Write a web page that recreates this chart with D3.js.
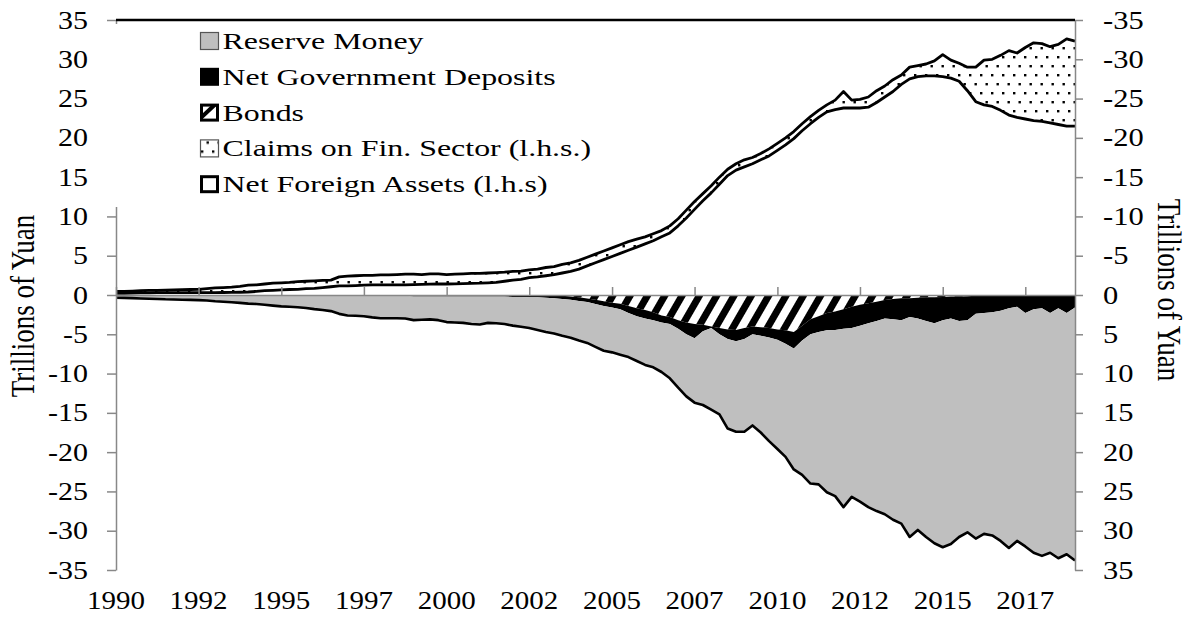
<!DOCTYPE html>
<html>
<head>
<meta charset="utf-8">
<script src="https://cdn.jsdelivr.net/npm/d3@7"></script>
<style>
  body { margin: 0; background: #fff; }
  text { font-family: "Liberation Serif", "Times New Roman", serif; fill: #000; }
</style>
</head>
<body>
<div id="chart"></div>
<script>
// Quarterly observations, 1990Q1 .. 2019Q1, trillions of yuan
// left side (l.h.s.)
var nfa = [
  0.2, 0.22, 0.24, 0.26,  0.28, 0.3, 0.3, 0.3,  0.3, 0.3, 0.3, 0.3,  0.3, 0.32, 0.33, 0.35,
  0.38, 0.45, 0.55, 0.6,  0.65, 0.7, 0.72, 0.8,  0.85, 0.95, 1.05, 1.15,  1.15, 1.2, 1.25, 1.3,
  1.3, 1.3, 1.3, 1.3,  1.32, 1.35, 1.38, 1.4,  1.4, 1.42, 1.45, 1.48,  1.5, 1.55, 1.6, 1.75,
  1.9, 2.0, 2.2, 2.3,  2.45, 2.6, 2.8, 3.0,  3.3, 3.7, 4.1, 4.5,  4.9, 5.3, 5.7, 6.1,
  6.5, 6.9, 7.4, 7.9,  8.8, 9.8, 10.9, 12.0,  13.0, 14.1, 15.2, 15.9,  16.3, 16.7, 17.2, 17.7,
  18.4, 19.1, 19.9, 20.9,  21.8, 22.6, 23.3, 23.6,  23.8, 23.8, 23.8, 23.9,  24.5, 25.2, 25.9, 26.8,
  27.5, 27.8, 27.9, 27.9,  27.8, 27.6, 27.2, 26.0,  24.6, 24.2, 24.0, 23.5,  22.9, 22.6, 22.4, 22.2,
  22.1, 21.9, 21.7, 21.5,  21.5
];
var claims = [
  0.25, 0.25, 0.26, 0.29,  0.3, 0.3, 0.33, 0.36,  0.38, 0.4, 0.42, 0.5,  0.6, 0.63, 0.67, 0.75,
  0.87, 0.85, 0.85, 0.9,  0.9, 0.9, 0.98, 0.95,  0.95, 0.9, 0.85, 1.15,  1.25, 1.25, 1.25, 1.2,
  1.25, 1.25, 1.3, 1.35,  1.33, 1.25, 1.32, 1.3,  1.2, 1.23, 1.25, 1.27,  1.25, 1.25, 1.25, 1.15,
  1.1, 1.05, 1.0, 1.0,  1.05, 1.0, 1.1, 1.1,  1.1, 1.1, 1.1, 1.1,  1.1, 1.1, 1.1, 1.0,
  0.9, 0.9, 0.8, 0.9,  0.9, 1.0, 1.0, 0.9,  0.9, 0.9, 0.8, 0.8,  0.9, 0.8, 0.8, 0.9,
  0.9, 0.9, 0.9, 0.9,  0.9, 0.9, 0.9, 1.2,  2.1, 1.0, 1.1, 1.3,  1.5, 1.4, 1.5, 1.2,
  1.5, 1.4, 1.5, 1.9,  2.8, 2.3, 2.3, 3.0,  4.4, 5.7, 6.0, 7.0,  8.2, 8.2, 9.1, 9.9,
  9.9, 9.7, 10.2, 11.1,  10.8
];
// right side (r.h.s., drawn downward)
var bonds = [
  0, 0, 0, 0,  0, 0, 0, 0,  0, 0, 0, 0,  0, 0, 0, 0,
  0, 0, 0, 0,  0, 0, 0, 0,  0, 0, 0, 0,  0, 0, 0, 0,
  0, 0, 0, 0,  0, 0, 0, 0,  0, 0, 0, 0,  0, 0, 0, 0,
  0, 0, 0, 0,  0, 0.05, 0.1, 0.2,  0.3, 0.45, 0.6, 0.8,  1.0, 1.1, 1.4, 1.7,
  1.9, 2.2, 2.6, 2.8,  3.2, 3.5, 3.7, 3.8,  4.0, 4.2, 4.4, 4.45,  4.2, 4.0, 4.1, 4.2,
  4.4, 4.5, 4.7, 3.9,  3.1, 2.7, 2.3, 2.1,  1.8, 1.5, 1.25, 1.05,  0.85, 0.65, 0.5, 0.42,
  0.4, 0.35, 0.3, 0.3,  0.25, 0.2, 0.2, 0.15,  0.1, 0.05, 0, 0,  0, 0, 0, 0,
  0, 0, 0, 0,  0
];
var govDeposits = [
  0.05, 0.05, 0.05, 0.05,  0.05, 0.05, 0.05, 0.05,  0.05, 0.05, 0.05, 0.05,  0.05, 0.05, 0.05, 0.05,
  0.05, 0.05, 0.05, 0.05,  0.1, 0.1, 0.1, 0.1,  0.1, 0.1, 0.1, 0.1,  0.1, 0.1, 0.1, 0.1,
  0.1, 0.1, 0.1, 0.1,  0.2, 0.2, 0.2, 0.2,  0.2, 0.2, 0.2, 0.2,  0.2, 0.2, 0.2, 0.2,
  0.25, 0.25, 0.3, 0.3,  0.35, 0.35, 0.4, 0.4,  0.45, 0.45, 0.55, 0.6,  0.6, 0.7, 0.9, 1.0,
  1.1, 1.0, 0.9, 0.9,  1.1, 1.5, 1.8, 0.8,  0.2, 0.8, 1.2, 1.45,  1.4, 1.0, 1.1, 1.2,
  1.3, 1.7, 2.1, 1.9,  1.9, 2.0, 2.2, 2.35,  2.5, 2.7, 2.65, 2.55,  2.45, 2.35, 2.6, 2.78,
  2.4, 2.65, 3.0, 3.3,  2.95, 2.8, 3.1, 3.05,  2.3, 2.25, 2.2, 2.0,  1.7, 1.5, 2.3, 1.8,
  1.7, 2.3, 1.7, 2.3,  1.6
];
var reserveMoney = [
  0.3, 0.32, 0.35, 0.4,  0.43, 0.45, 0.5, 0.52,  0.55, 0.57, 0.6, 0.65,  0.75, 0.8, 0.87, 0.95,
  1.05, 1.1, 1.2, 1.3,  1.35, 1.4, 1.45, 1.55,  1.7, 1.8, 1.95, 2.3,  2.5, 2.55, 2.6, 2.75,
  2.85, 2.85, 2.85, 2.9,  3.0, 2.95, 2.9, 3.0,  3.25, 3.3, 3.35, 3.5,  3.55, 3.35, 3.4, 3.5,
  3.65, 3.8, 3.9, 4.15,  4.35, 4.5, 4.7, 4.85,  5.05, 5.2, 5.45, 5.7,  5.7, 5.8, 5.6, 5.7,
  5.9, 6.0, 6.3, 6.9,  7.5, 7.9, 8.2, 9.4,  10.4, 10.2, 11.4, 11.5,  11.8, 11.6, 12.3, 13.2,
  13.9, 14.4, 15.4, 17.1,  19.0, 19.4, 20.6, 21.15,  22.7, 21.5, 22.4, 23.4,  24.2, 24.9, 25.5, 25.9,
  28.0, 26.9, 27.5, 28.0,  28.9, 28.7, 27.5, 27.0,  28.6, 28.1, 28.4, 29.3,  30.5, 29.8, 29.7, 31.0,
  31.5, 30.5, 31.8, 30.7,  32.2
];

var xLabels = ["1990", "1992", "1995", "1997", "2000", "2002", "2005", "2007", "2010", "2012", "2015", "2017"];
var yTicks = [-35, -30, -25, -20, -15, -10, -5, 0, 5, 10, 15, 20, 25, 30, 35];
var legendNames = ["Reserve Money", "Net Government Deposits", "Bonds", "Claims on Fin. Sector (l.h.s.)", "Net Foreign Assets (l.h.s)"];

var W = 1192, H = 630;
var grey = "#bfbfbf", axisGrey = "#888";

var svg = d3.select("#chart").append("svg").attr("width", W).attr("height", H);

// the original lettering is wider than plain Times: stretch glyphs horizontally
function widenTick(sel, k) {
  sel.each(function() {
    var t = d3.select(this);
    t.attr("x", +t.attr("x") / k).attr("transform", "scale(" + k + ",1)");
  });
}

var start = new Date(1990, 0, 1);
var rows = nfa.map(function(v, i) {
  return { date: d3.timeMonth.offset(start, i * 3), nfa: v, claims: claims[i],
           bonds: bonds[i], gov: govDeposits[i], rm: reserveMoney[i] };
});

var x = d3.scaleTime().domain([start, new Date(2019, 0, 1)]).range([116, 1075]);
var yL = d3.scaleLinear().domain([-35, 35]).range([570, 20]);
var yR = d3.scaleLinear().domain([-35, 35]).range([20, 570]);

// patterns
var defs = svg.append("defs");
var hatch = defs.append("pattern").attr("id", "hatch").attr("patternUnits", "userSpaceOnUse")
  .attr("width", 15).attr("height", 15).attr("patternTransform", "rotate(30)");
hatch.append("rect").attr("width", 15).attr("height", 15).attr("fill", "#fff");
hatch.append("rect").attr("width", 7).attr("height", 15).attr("fill", "#000");

var dots = defs.append("pattern").attr("id", "dots").attr("patternUnits", "userSpaceOnUse")
  .attr("width", 11).attr("height", 18);
dots.append("rect").attr("width", 11).attr("height", 18).attr("fill", "#fff");
dots.append("rect").attr("x", 1).attr("y", 2).attr("width", 2.4).attr("height", 2.4).attr("fill", "#000");
dots.append("rect").attr("x", 6.5).attr("y", 11).attr("width", 2.4).attr("height", 2.4).attr("fill", "#000");

// stacks
var rightStack = d3.stack().keys(["bonds", "gov", "rm"])(rows);
var leftStack = d3.stack().keys(["nfa", "claims"])(rows);

var areaR = d3.area().x(function(d) { return x(d.data.date); })
  .y0(function(d) { return yR(d[0]); }).y1(function(d) { return yR(d[1]); });
var areaL = d3.area().x(function(d) { return x(d.data.date); })
  .y0(function(d) { return yL(d[0]); }).y1(function(d) { return yL(d[1]); });
var lineR = d3.line().x(function(d) { return x(d.data.date); }).y(function(d) { return yR(d[1]); });
var lineL = d3.line().x(function(d) { return x(d.data.date); }).y(function(d) { return yL(d[1]); });

var fillsR = { bonds: "url(#hatch)", gov: "#000", rm: grey };
svg.selectAll(".areaR").data(rightStack).enter().append("path")
  .attr("class", "areaR").attr("d", areaR).attr("fill", function(s) { return fillsR[s.key]; });
svg.append("path").attr("d", lineR(rightStack[2])).attr("fill", "none")
  .attr("stroke", "#000").attr("stroke-width", 2.6).attr("stroke-linejoin", "round");

var fillsL = { nfa: "#fff", claims: "url(#dots)" };
svg.selectAll(".areaL").data(leftStack).enter().append("path")
  .attr("class", "areaL").attr("d", areaL).attr("fill", function(s) { return fillsL[s.key]; });
svg.selectAll(".lineL").data(leftStack).enter().append("path")
  .attr("class", "lineL").attr("d", lineL).attr("fill", "none")
  .attr("stroke", "#000").attr("stroke-width", 2.8).attr("stroke-linejoin", "round");

// x axis on the zero line, ticks pointing up
var xTickDates = xLabels.map(function(l, i) { return d3.timeMonth.offset(start, i * 30); });
svg.append("g").attr("transform", "translate(0," + yL(0) + ")")
  .call(d3.axisTop(x).tickValues(xTickDates).tickSize(8).tickSizeOuter(0).tickFormat(""))
  .call(function(g) { g.selectAll("line,path").attr("stroke", axisGrey).attr("stroke-width", 1.5); });

svg.append("g").selectAll("text").data(xLabels).enter().append("text")
  .attr("transform", function(d, i) { return "translate(" + x(xTickDates[i]) + ",609) scale(1.16,1)"; })
  .attr("text-anchor", "middle").attr("font-size", 25).text(function(d) { return d; });

// y axes
var fmt = function(d) { return String(d); };
svg.append("g").attr("transform", "translate(116,0)")
  .call(d3.axisLeft(yL).tickValues(yTicks).tickSize(9).tickSizeOuter(0).tickPadding(19).tickFormat(fmt))
  .call(function(g) {
    g.selectAll("line,path").attr("stroke", axisGrey).attr("stroke-width", 1.5);
    g.selectAll("text").attr("font-size", 25).attr("font-family", null).call(widenTick, 1.2);
  });
svg.append("g").attr("transform", "translate(1075,0)")
  .call(d3.axisRight(yR).tickValues(yTicks).tickSize(8).tickSizeOuter(0).tickPadding(20).tickFormat(fmt))
  .call(function(g) {
    g.selectAll("line,path").attr("stroke", axisGrey).attr("stroke-width", 1.5);
    g.selectAll("text").attr("font-size", 25).attr("font-family", null).call(widenTick, 1.22);
  });

// top border line
svg.append("line").attr("x1", 116).attr("x2", 1075).attr("y1", yL(35)).attr("y2", yL(35))
  .attr("stroke", "#000").attr("stroke-width", 2.6);

// axis titles
svg.append("text").attr("transform", "translate(34,306) scale(1.25,1) rotate(-90)")
  .attr("text-anchor", "middle").attr("font-size", 27).text("Trillions of Yuan");
svg.append("text").attr("transform", "translate(1158,290) scale(1.25,1) rotate(90)")
  .attr("text-anchor", "middle").attr("font-size", 27).text("Trillions of Yuan");

// legend
svg.append("rect").attr("x", 100).attr("y", 24).attr("width", 500).attr("height", 183).attr("fill", "#fff");
var leg = svg.append("g").selectAll("g").data(legendNames).enter().append("g")
  .attr("transform", function(d, i) { return "translate(200," + (41 + i * 35.8) + ")"; });
leg.append("text").attr("transform", "translate(22.5,8) scale(1.33,1)").attr("font-size", 24)
  .text(function(d) { return d; });
leg.each(function(d, i) {
  var g = d3.select(this);
  if (i === 0) {
    g.append("rect").attr("x", 0.5).attr("y", -8.5).attr("width", 18).attr("height", 17)
      .attr("fill", grey).attr("stroke", "#555").attr("stroke-width", 1.2);
  } else if (i === 1) {
    g.append("rect").attr("x", 0).attr("y", -9).attr("width", 19).attr("height", 18).attr("fill", "#000");
  } else if (i === 2) {
    g.append("rect").attr("x", 1.5).attr("y", -7.5).attr("width", 16).attr("height", 15)
      .attr("fill", "#fff").attr("stroke", "#000").attr("stroke-width", 3);
    g.append("path").attr("d", "M1.5,7.5 L1.5,2 L11.5,-7.5 L17.5,-7.5 Z").attr("fill", "#000");
  } else if (i === 3) {
    g.append("rect").attr("x", 0.5).attr("y", -8.5).attr("width", 18).attr("height", 17)
      .attr("fill", "url(#dots)").attr("stroke", "#555").attr("stroke-width", 1.2);
  } else {
    g.append("rect").attr("x", 1.5).attr("y", -7.5).attr("width", 16).attr("height", 15)
      .attr("fill", "#fff").attr("stroke", "#000").attr("stroke-width", 3);
  }
});
</script>
</body>
</html>
